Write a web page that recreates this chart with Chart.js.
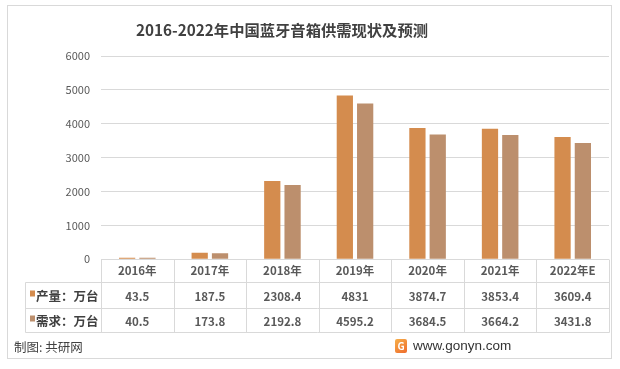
<!DOCTYPE html>
<html>
<head>
<meta charset="utf-8">
<script src="https://cdn.jsdelivr.net/npm/chart.js@4/dist/chart.umd.min.js"></script>
<style>
  html, body { margin: 0; padding: 0; background: #fff; }
  #wrap { width: 620px; height: 369px; }
</style>
</head>
<body>
<div id="wrap"><canvas id="myChart" width="620" height="369"></canvas></div>
<script>
const years = ['2016年', '2017年', '2018年', '2019年', '2020年', '2021年', '2022年E'];
const output = [43.5, 187.5, 2308.4, 4831, 3874.7, 3853.4, 3609.4];
const demand = [40.5, 173.8, 2192.8, 4595.2, 3684.5, 3664.2, 3431.8];
const outputLabels = ['43.5', '187.5', '2308.4', '4831', '3874.7', '3853.4', '3609.4'];
const demandLabels = ['40.5', '173.8', '2192.8', '4595.2', '3684.5', '3664.2', '3431.8'];
const seriesNames = ['产量：万台', '需求：万台'];
const titleText = '2016-2022年中国蓝牙音箱供需现状及预测';
const yMax = 6000;
const yStep = 1000;

const FONT = "'Noto Sans CJK SC', 'Noto Sans', sans-serif";
const lineColor = '#d9d9d9';

// frame, title, data table under the axis, footer
const tablePlugin = {
  id: 'tablePlugin',
  beforeDraw(chart) {
    const ctx = chart.ctx;
    ctx.save();
    ctx.fillStyle = '#fff';
    ctx.fillRect(0, 0, chart.width, chart.height);
    ctx.strokeStyle = lineColor;
    ctx.lineWidth = 1;
    ctx.strokeRect(7.5, 5.5, 604, 353);
    ctx.fillStyle = '#404040';
    ctx.font = 'bold 15.3px ' + FONT;
    ctx.textAlign = 'center';
    ctx.textBaseline = 'middle';
    ctx.fillText(titleText, 282, 30);
    ctx.restore();
  },
  afterDraw(chart) {
    const ctx = chart.ctx;
    const x = chart.scales.x;
    const area = chart.chartArea;
    const n = years.length;
    const w = (x.right - x.left) / n;
    const top = Math.round(area.bottom) + 0.5;
    const rows = [top + 23, top + 49, top + 73];
    const tableLeft = 25.5;

    ctx.save();
    ctx.strokeStyle = lineColor;
    ctx.lineWidth = 1;
    ctx.beginPath();
    for (let k = 0; k <= n; k++) {
      const px = Math.round(x.left + k * w) + 0.5;
      ctx.moveTo(px, top);
      ctx.lineTo(px, rows[2]);
    }
    rows.forEach(r => {
      ctx.moveTo(tableLeft, r);
      ctx.lineTo(Math.round(x.right) + 0.5, r);
    });
    ctx.moveTo(tableLeft, rows[0]);
    ctx.lineTo(tableLeft, rows[2]);
    ctx.stroke();

    const rowData = [outputLabels, demandLabels];
    ctx.textBaseline = 'middle';
    rowData.forEach((vals, r) => {
      const cy = (rows[r] + rows[r + 1]) / 2;
      ctx.fillStyle = chart.data.datasets[r].backgroundColor;
      ctx.fillRect(30, cy - 5, 5, 6);
      ctx.fillStyle = '#404040';
      ctx.font = 'bold 12.5px ' + FONT;
      ctx.textAlign = 'left';
      ctx.fillText(seriesNames[r], 36, cy + 1);
      ctx.fillStyle = '#595959';
      ctx.font = 'bold 11.5px ' + FONT;
      ctx.textAlign = 'center';
      vals.forEach((v, i) => {
        ctx.fillText(v, x.getPixelForValue(i), cy + 1);
      });
    });

    // footer
    ctx.fillStyle = '#404040';
    ctx.textAlign = 'left';
    ctx.font = '12.5px ' + FONT;
    ctx.fillText('制图: 共研网', 14, 347);

    const lg = ctx.createLinearGradient(395, 339, 406, 354);
    lg.addColorStop(0, '#f7b04a');
    lg.addColorStop(1, '#ee6a2c');
    ctx.fillStyle = lg;
    ctx.beginPath();
    ctx.roundRect(395, 339, 12, 14, 2);
    ctx.fill();
    ctx.fillStyle = '#fff';
    ctx.font = 'bold 10px ' + FONT;
    ctx.textAlign = 'center';
    ctx.fillText('G', 401, 346.5);

    ctx.fillStyle = '#333';
    ctx.textAlign = 'left';
    ctx.font = '13.5px "Liberation Sans", Arial, sans-serif';
    ctx.fillText('www.gonyn.com', 413, 346);
    ctx.restore();
  }
};

const data = {
  labels: years,
  datasets: [{
    label: seriesNames[0],
    data: output,
    backgroundColor: 'rgb(212, 140, 78)',
    barPercentage: 0.8,
    categoryPercentage: 0.56
  }, {
    label: seriesNames[1],
    data: demand,
    backgroundColor: 'rgb(188, 143, 109)',
    barPercentage: 0.8,
    categoryPercentage: 0.56
  }]
};

const config = {
  type: 'bar',
  data: data,
  plugins: [tablePlugin],
  options: {
    responsive: false,
    animation: false,
    layout: { padding: { left: 0, right: 11, top: 56, bottom: 86 } },
    plugins: {
      legend: { display: false },
      tooltip: { enabled: false },
      title: { display: false }
    },
    scales: {
      x: {
        grid: { display: false, drawTicks: false },
        border: { display: false },
        ticks: {
          color: '#595959',
          font: { family: FONT, size: 11.5, weight: 'bold' },
          padding: 5,
          maxRotation: 0,
          autoSkip: false
        }
      },
      y: {
        min: 0,
        max: yMax,
        afterFit: s => { s.width = 101; },
        grid: { color: lineColor, drawTicks: false },
        border: { display: false },
        ticks: {
          stepSize: yStep,
          color: '#595959',
          font: { family: FONT, size: 11 },
          padding: 11,
          callback: v => String(v)
        }
      }
    }
  }
};

const myChart = new Chart(document.getElementById('myChart'), config);
</script>
</body>
</html>
